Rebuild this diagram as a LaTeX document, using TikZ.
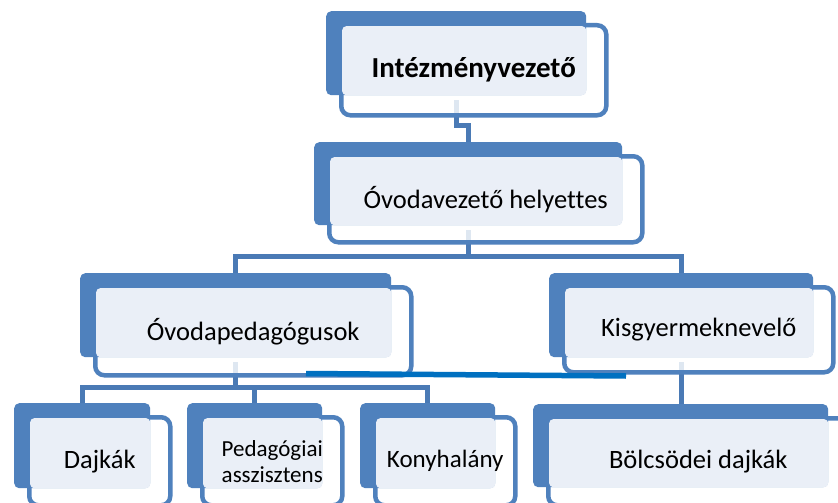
\documentclass[tikz,border=0pt]{standalone}
\usepackage{fontspec}
\setmainfont{Carlito}[Ligatures=NoCommon]
\usetikzlibrary{calc}
\definecolor{backblue}{HTML}{4F81BD}
\definecolor{conblue}{HTML}{4A7AB5}
\definecolor{lightfill}{HTML}{EAEFF7}
\definecolor{straycol}{HTML}{0070C0}
\pgfdeclarelayer{paper}
\pgfdeclarelayer{bg}
\pgfsetlayers{paper,bg,main}
\tikzset{
  backbox/.style={fill=backblue, rounded corners=5pt, inner sep=0pt, anchor=north west},
  framebox/.style={draw=backblue, line width=4.5pt, fill=white, fill opacity=0.82, draw opacity=1, rounded corners=9pt, inner sep=0pt, anchor=north west},
  lightbox/.style={fill=lightfill, rounded corners=4pt, inner sep=0pt, anchor=north west},
  lbl/.style={text=black, inner sep=0pt, align=center},
  conn/.style={draw=conblue, line width=5pt},
  strayline/.style={draw=straycol, line width=5.5pt},
  fbold/.style={font=\fontsize{29pt}{34pt}\selectfont\bfseries},
  fbig/.style={font=\fontsize{26.5pt}{31pt}\selectfont},
  fmid/.style={font=\fontsize{25pt}{29pt}\selectfont},
  fsmall/.style={font=\fontsize{23pt}{26pt}\selectfont},
}
% #1 name, #2 bx, #3 by, #4 bw, #5 bh, #6 frame bottom, #7 font style, #8 text
\newcommand{\orgbox}[8]{%
  \node[framebox, minimum width={(#4+5)*1pt}, minimum height={(#6-#3-14)*1pt}] (#1f) at ({#2+13},{#3+12}) {};
  \node[backbox, minimum width={#4*1pt}, minimum height={#5*1pt}] (#1) at (#2,#3) {};
  \node[lightbox, minimum width={(#4-16)*1pt}, minimum height={(#5-15)*1pt}] (#1l) at ({#2+16},{#3+15}) {};
  \node[lbl, #7] (#1t) at (#1f.center) {#8};
}
\begin{document}
\begin{tikzpicture}[x=1pt, y=-1pt]
\useasboundingbox (0,0) rectangle (838,503);
\clip (0,0) rectangle (838,503);
\begin{pgfonlayer}{paper}
  \fill[white] (0,0) rectangle (838,503);
\end{pgfonlayer}

\orgbox{b1}{326}{11}{260}{84}{115}{fbold}{Intézményvezető}
\orgbox{b2}{314}{142}{308}{83}{242}{fbig}{Óvodavezető helyettes}
\orgbox{b3}{80}{273}{311}{84}{375}{fbig}{Óvodapedagógusok}
\orgbox{b4}{549}{273}{264}{84}{372}{fbig}{Kisgyermeknevelő}
\orgbox{b5}{14}{403}{136}{85}{505}{fbig}{Dajkák}
\orgbox{b6}{187}{403}{135}{85}{505}{fsmall}{Pedagógiai\\asszisztens}
\orgbox{b7}{360}{403}{135}{85}{505}{fmid}{Konyhalány}
\orgbox{b8}{533}{404}{295}{83}{505}{fbig}{Bölcsödei dajkák}

\begin{pgfonlayer}{bg}
  \draw[conn] ([yshift=-5pt]b1.south) -- ++(0,25) -| (b2.north);
  \coordinate (j2) at ($(b2.south)+(0,31)$);
  \draw[conn] ([yshift=-5pt]b2.south) -- (j2);
  \draw[conn] (b3.north) |- (j2) -| (b4.north);
  \coordinate (j3) at ($(b3.south)+(0,30)$);
  \draw[conn] ([yshift=-5pt]b3.south) -- (j3);
  \draw[conn] (b5.north) |- (j3) -| (b7.north);
  \draw[conn] (b6.north |- j3) -- (b6.north);
  \draw[conn] ([yshift=-5pt]b4.south) -- (b4.south |- b8.north);
\end{pgfonlayer}

\coordinate (s1) at (306,373.5);
\coordinate (s2) at (626,376);
\draw[strayline] (s1) -- (s2);
\end{tikzpicture}
\end{document}
